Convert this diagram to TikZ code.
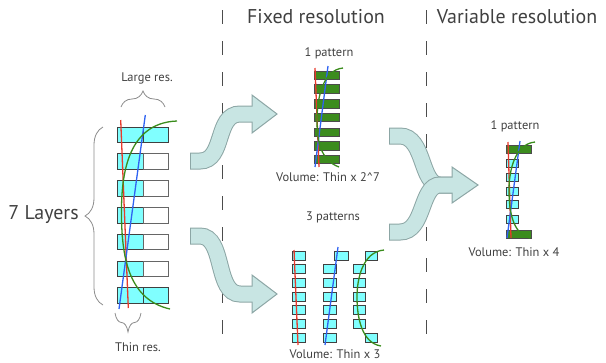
\documentclass[tikz,border=0pt]{standalone}
\usepackage{fontspec}
\setmainfont{PT Sans}
\usetikzlibrary{decorations.pathreplacing}
\definecolor{cyanf}{HTML}{80FFFF}
\definecolor{greenf}{HTML}{3C8C1E}
\definecolor{arrowf}{HTML}{C8E5E3}
\definecolor{arrowd}{HTML}{8CA6A5}
\definecolor{txt}{HTML}{404040}
\definecolor{redl}{HTML}{E83A2C}
\definecolor{bluel}{HTML}{2F63F2}
\definecolor{greenl}{HTML}{3A8C1C}
\begin{document}
\begin{tikzpicture}[x=1bp,y=-1bp,
  cbox/.style={fill=cyanf,draw=black!75,line width=0.7bp},
  gbox/.style={fill=greenf,draw=black!70,line width=0.7bp},
  wbox/.style={fill=white,draw=black!60,line width=0.7bp},
  redfit/.style={draw=redl,line width=1.3bp},
  bluefit/.style={draw=bluel,line width=1.3bp},
  greenfit/.style={draw=greenl,line width=1.3bp},
  lbl/.style={text=txt,font=\fontsize{12.5}{14}\selectfont,inner sep=0},
  title/.style={text=txt,font=\fontsize{20}{24}\selectfont,inner sep=0},
  brc/.style={draw=black!45,line width=0.8bp,decorate},
  sep/.style={draw=black!70,line width=1bp,dash pattern=on 14bp off 17bp},
  bandout/.style={draw=arrowd,line width=17bp},
  bandin/.style={draw=arrowf,line width=15bp,shorten <=1bp,shorten >=-1.5bp},
  ahead/.style={fill=arrowf,draw=arrowd,line width=1bp,line join=miter}
]
\useasboundingbox (0,0) rectangle (606,362);

% separators
\draw[sep] (222,10) -- (222,350);
\draw[sep] (426,10) -- (426,350);

% titles
\node[title] (tfixed) at (316,17) {Fixed resolution};
\node[title] (tvar) at (517,17) {Variable resolution};

% left stack
\foreach \t [count=\i] in {127,153.8,180.6,207.4,234.2,261,287.8}{
  \draw[cbox] (117,\t) rectangle (143,\t+15.5);
  \ifnum\i=1 \draw[cbox] (143,\t) rectangle (168,\t+15.5);
  \else\ifnum\i=7 \draw[cbox] (143,\t) rectangle (168,\t+15.5);
  \else \draw[wbox] (143,\t) rectangle (168,\t+15.5); \fi\fi
}
\draw[redfit] (120.7,120) -- (128.3,308);
\draw[bluefit] (145.3,115) -- (119,309);
\draw[greenfit] (177,121) .. controls (125,123) and (121,180) .. (121.5,217)
  .. controls (122,260) and (130,300) .. (170,309);

\draw[brc,decoration={brace,amplitude=16bp}] (121,107) -- (165,107);
\node[lbl] (large) at (147,78) {Large res.};
\draw[brc,decoration={brace,amplitude=18bp}] (103,305) -- (103,127);
\node[text=txt,font=\fontsize{20}{24}\selectfont,inner sep=0] (layers) at (43.5,215) {7 Layers};
\draw[brc,decoration={brace,amplitude=19bp}] (141,313) -- (115,313);
\node[lbl] (thin) at (138,347) {Thin res.};

% arrows from left stack
\draw[bandout] (190,161) -- (200,161) .. controls (225,161) and (215,114) .. (240,114) -- (252,114);
\draw[ahead] (252,95) -- (277,114) -- (252,133) -- cycle;
\draw[bandin] (190,161) -- (200,161) .. controls (225,161) and (215,114) .. (240,114) -- (252,114);

\draw[bandout] (190,236) -- (200,236) .. controls (225,236) and (215,294) .. (240,294) -- (252,294);
\draw[ahead] (252,275) -- (277,294) -- (252,313) -- cycle;
\draw[bandin] (190,236) -- (200,236) .. controls (225,236) and (215,294) .. (240,294) -- (252,294);

% fixed: 1 pattern
\node[lbl] (p1) at (329,53) {1 pattern};
\foreach \t in {71,84.5,99.5,113,128,141.5,155}{
  \draw[gbox] (314,\t) rectangle (339,\t+8.5);
}
\draw[redfit] (315,68) -- (319,167);
\draw[bluefit] (328,66) -- (315,167);
\draw[greenfit] (343,68) .. controls (322,70) and (317,100) .. (317,120)
  .. controls (317,140) and (320,160) .. (339,167);
\node[lbl] (v1) at (328,177) {Volume: Thin x 2\^{}7};

% fixed: 3 patterns
\node[lbl] (p3) at (333,217) {3 patterns};
\foreach \i in {0,...,6}{
  \draw[cbox] (292,251+13.7*\i) rectangle (305,251+13.7*\i+9);
}
\draw[cbox] (334,251) rectangle (348,260);
\foreach \i in {1,...,6}{
  \draw[cbox] (323,251+13.7*\i) rectangle (336,251+13.7*\i+9);
}
\draw[cbox] (365,251) rectangle (377,260);
\foreach \i in {1,...,5}{
  \draw[cbox] (353,251+13.7*\i) rectangle (365,251+13.7*\i+9);
}
\draw[cbox] (365,333.2) rectangle (377,342.2);
\draw[redfit] (294,250) -- (298,345);
\draw[bluefit] (338,247) -- (325,345);
\draw[greenfit] (384,250) .. controls (362,252) and (357,280) .. (357,297)
  .. controls (357,318) and (362,343) .. (381,346);
\node[lbl] (v3) at (335,354) {Volume: Thin x 3};

% merging arrows
\draw[bandout] (389,136) -- (400,136) .. controls (425,136) and (420,185) .. (440,185) -- (452,185);
\draw[bandin] (389,136) -- (400,136) .. controls (425,136) and (420,185) .. (440,185) -- (452,185);
\draw[ahead] (452,167) -- (478,185) -- (452,203) -- cycle;
\draw[bandout] (389,232) -- (400,232) .. controls (425,232) and (420,185) .. (440,185) -- (452,185);
\draw[bandin] (389,232) -- (400,232) .. controls (425,232) and (420,185) .. (440,185) -- (452,185);

% variable: 1 pattern
\node[lbl] (p1v) at (515,126) {1 pattern};
\draw[gbox] (506,145) rectangle (531,153);
\foreach \t in {159.3,173.3,187.3,200.7,215}{
  \draw[cbox] (506,\t) rectangle (518,\t+8);
}
\draw[gbox] (506,230.7) rectangle (531,238.7);
\draw[redfit] (508,142) -- (511,238);
\draw[bluefit] (520,141) -- (507,238);
\draw[greenfit] (535,142) .. controls (515,144) and (509,170) .. (509,190)
  .. controls (509,212) and (513,234) .. (530,238);
\node[lbl] (v4) at (514,252) {Volume: Thin x 4};
\end{tikzpicture}
\end{document}
